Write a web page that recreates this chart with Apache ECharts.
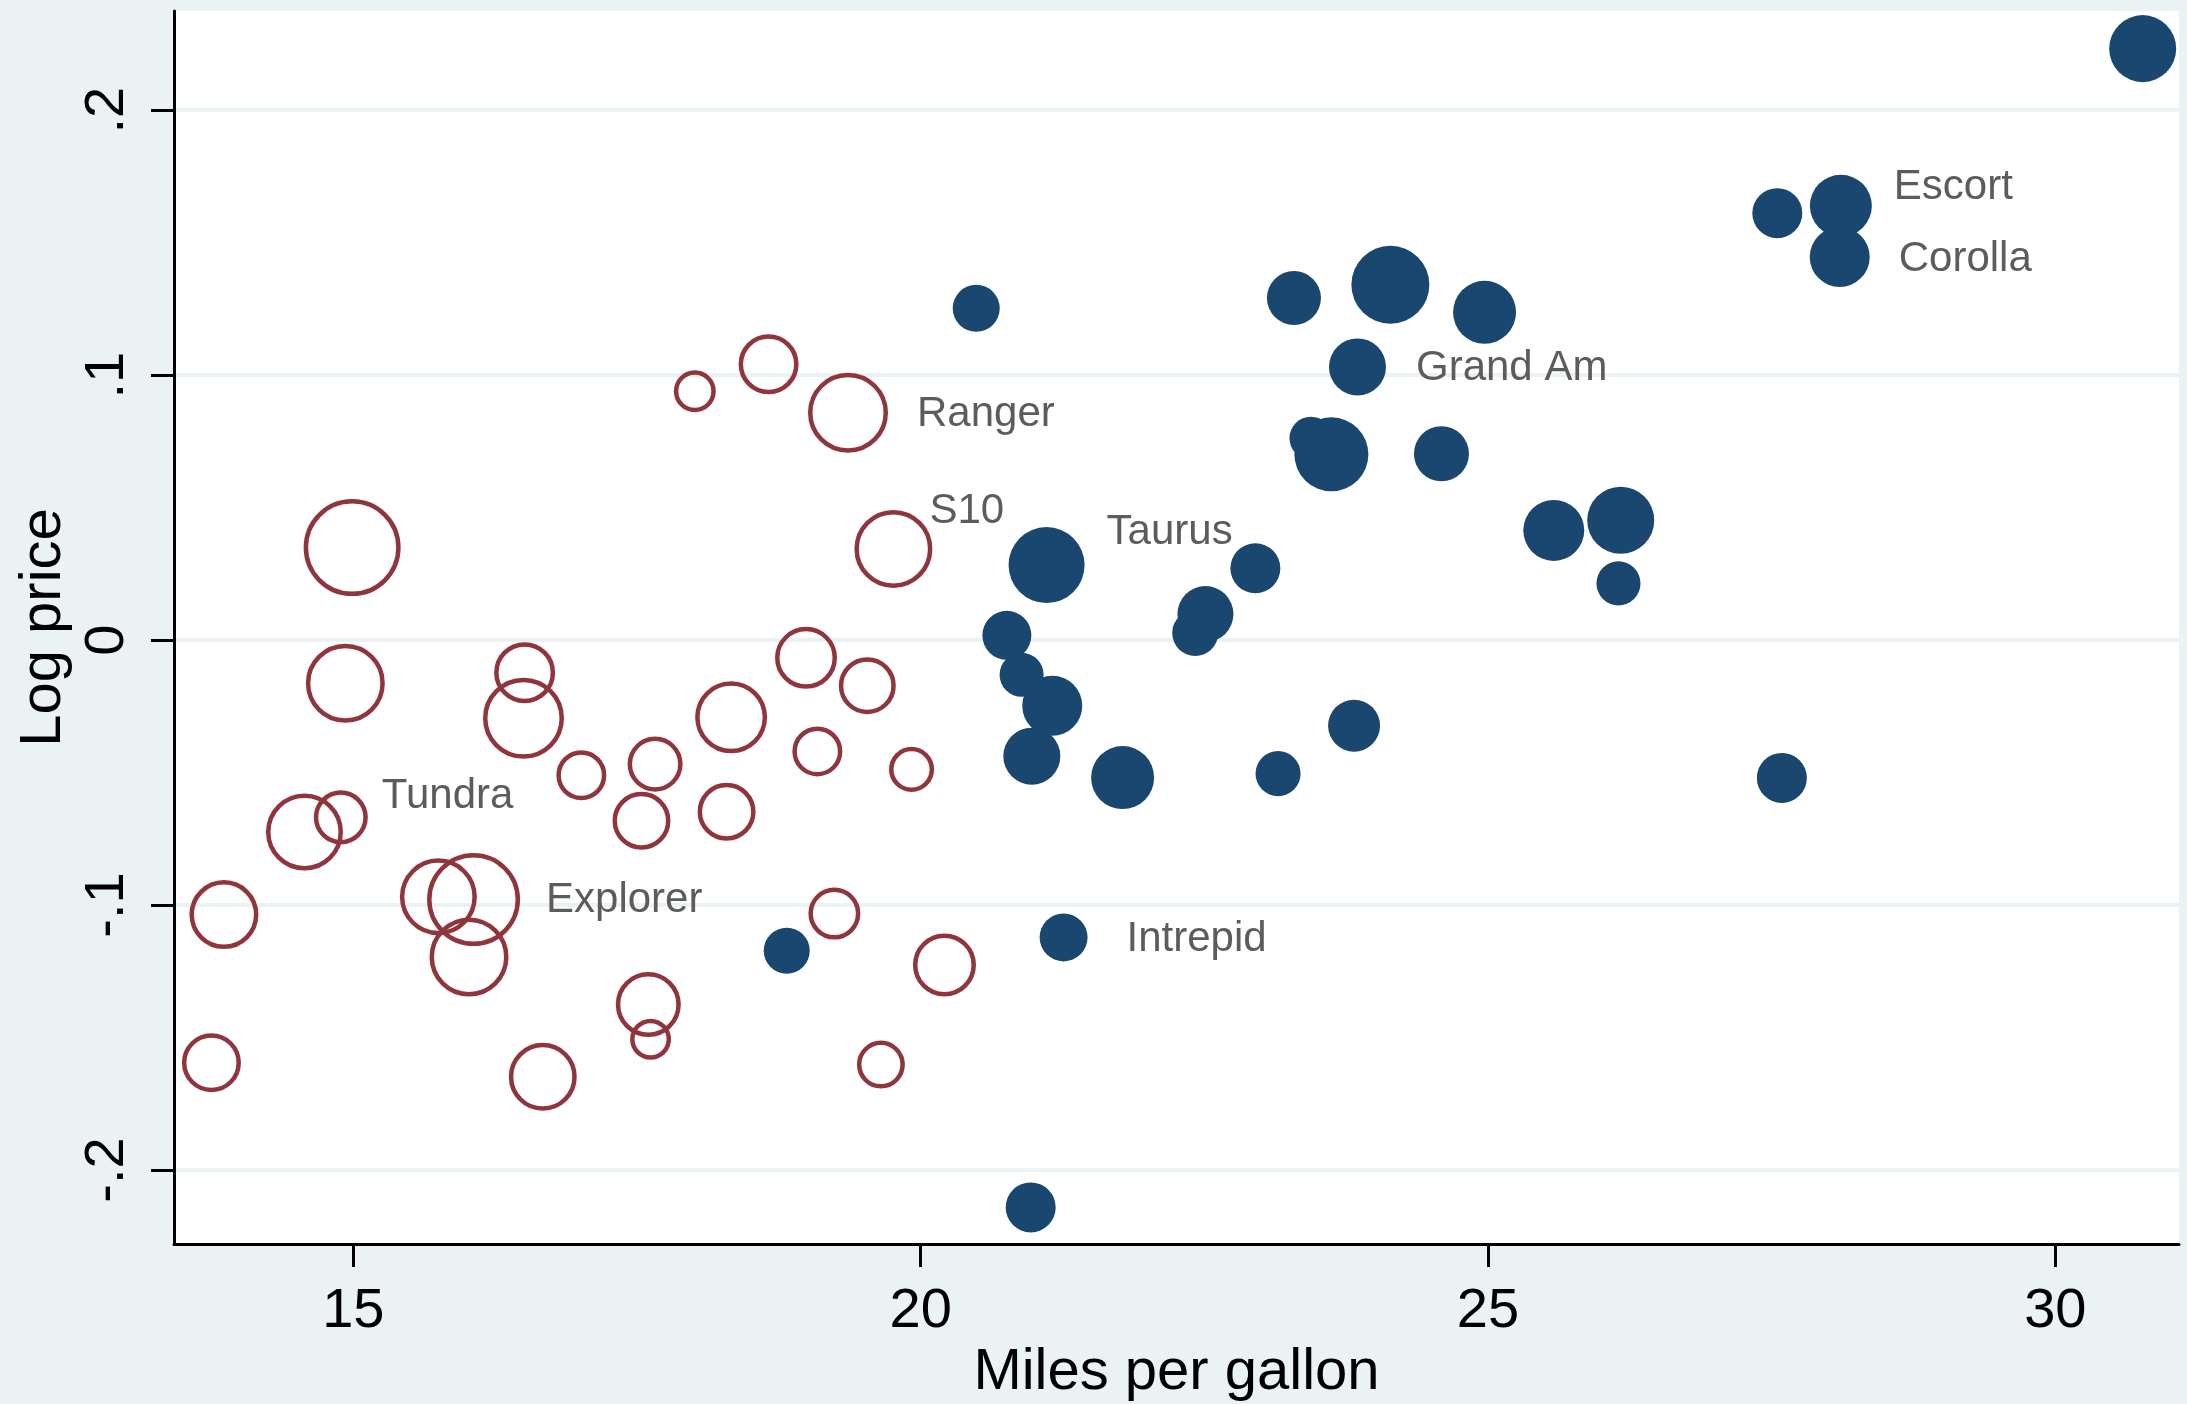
<!DOCTYPE html>
<html><head><meta charset="utf-8">
<script src="https://cdn.jsdelivr.net/npm/echarts@6/dist/echarts.min.js"></script>
<style>html,body{margin:0;padding:0;background:#EAF2F3}#c{width:2187px;height:1404px}</style>
</head><body><div id="c"></div>
<script>
// ---- data ----
const xTicks = [15, 20, 25, 30];
const yTicks = [-0.2, -0.1, 0, 0.1, 0.2];
const yTickLabels = ['-.2', '-.1', '0', '.1', '.2'];

const truckMpg = [18.01, 18.66, 19.36, 14.99, 19.76, 14.93, 16.51, 16.50, 17.01, 17.66, 17.54, 18.33, 18.29, 18.99, 19.09, 19.53, 19.92, 14.89, 14.57, 13.86, 15.75, 16.06, 16.02, 13.75, 16.67, 17.60, 17.62, 19.24, 20.21, 19.65];
const truckLogPrice = [0.0939, 0.1041, 0.0858, 0.0349, 0.0344, -0.0163, -0.0123, -0.0295, -0.0510, -0.0468, -0.0682, -0.0291, -0.0648, -0.0067, -0.0420, -0.0172, -0.0488, -0.0669, -0.0724, -0.1036, -0.0969, -0.0979, -0.1196, -0.1595, -0.1648, -0.1375, -0.1506, -0.1032, -0.1226, -0.1602];
const truckWeight = [17.6, 36.0, 64.0, 94.1, 60.8, 62.4, 37.2, 65.6, 25.0, 30.3, 33.6, 51.8, 33.6, 38.4, 25.0, 32.5, 20.3, 29.2, 59.3, 47.6, 59.3, 86.5, 62.4, 34.8, 46.2, 42.3, 16.8, 27.0, 39.7, 23.0];
const truckNames = ['', '', 'Ranger', '', 'S10', '', '', '', '', '', '', '', '', '', '', '', '', 'Tundra', '', '', '', 'Explorer', '', '', '', '', '', '', '', ''];

const carMpg = [20.49, 23.29, 24.14, 24.97, 23.85, 23.44, 23.62, 24.59, 21.11, 22.95, 22.42, 22.51, 20.76, 20.89, 21.16, 20.98, 21.78, 23.15, 23.82, 25.58, 26.17, 26.15, 27.55, 28.11, 28.10, 30.77, 27.59, 21.26, 18.82, 20.97];
const carLogPrice = [0.1252, 0.1291, 0.1341, 0.1237, 0.1031, 0.0762, 0.0701, 0.0703, 0.0283, 0.0271, 0.0027, 0.0098, 0.0018, -0.0131, -0.0248, -0.0438, -0.0519, -0.0504, -0.0323, 0.0414, 0.0452, 0.0214, 0.1611, 0.1639, 0.1446, 0.2232, -0.0520, -0.1122, -0.1172, -0.2141];
const carWeight = [22.1, 29.2, 60.8, 39.7, 32.5, 18.5, 54.8, 30.3, 57.8, 25.0, 21.2, 31.4, 24.0, 19.4, 36.0, 32.5, 39.7, 20.3, 27.0, 37.2, 44.9, 19.4, 25.0, 38.4, 36.0, 44.9, 25.0, 23.0, 21.2, 25.0];
const carNames = ['', '', '', '', 'Grand Am', '', '', '', 'Taurus', '', '', '', '', '', '', '', '', '', '', '', '', '', '', 'Escort', 'Corolla', '', '', 'Intrepid', '', ''];

// ---- styles ----
const FONT = '"Liberation Sans", Helvetica, Arial, sans-serif';
const labelOffsets = {
  'Ranger': [29, 2], 'S10': [-3, -38], 'Tundra': [14, -21], 'Explorer': [26, 1],
  'Grand Am': [30, 2], 'Taurus': [22, -33], 'Escort': [22, -18], 'Corolla': [29, 3], 'Intrepid': [39, 2]
};
const HOLLOW_W = 4.5;

function build(mpg, lp, w, names) {
  return mpg.map((m, i) => ({
    value: [m, lp[i], w[i]],
    name: names[i],
    label: names[i] ? { show: true, offset: labelOffsets[names[i]] || [0, 0] } : { show: false }
  }));
}

const pointLabel = {
  show: false, position: 'right', distance: 0, formatter: '{b}',
  fontSize: 42, color: '#5c5c5c', fontFamily: FONT
};

const chart = echarts.init(document.getElementById('c'), null, { renderer: 'canvas' });
chart.setOption({
  animation: false,
  backgroundColor: '#EAF2F3',
  grid: { left: 174, right: 8, top: 11, bottom: 160, show: true, backgroundColor: '#ffffff', borderWidth: 0, containLabel: false, outerBoundsMode: 'none' },
  xAxis: {
    type: 'value', min: 13.42, max: 31.09,
    name: 'Miles per gallon', nameLocation: 'middle', nameGap: 100, nameMoveOverlap: false,
    nameTextStyle: { fontSize: 58, color: '#000', fontFamily: FONT },
    axisLine: { show: true, onZero: false, lineStyle: { color: '#000', width: 3 } },
    axisTick: { show: true, length: 23, lineStyle: { color: '#000', width: 3 }, customValues: xTicks },
    axisLabel: { customValues: xTicks, margin: 40, fontSize: 56, color: '#000', fontFamily: FONT },
    splitLine: { show: false }
  },
  yAxis: {
    type: 'value', min: -0.2279, max: 0.2374,
    name: 'Log price', nameLocation: 'middle', nameGap: 101, nameRotate: 90, nameMoveOverlap: false,
    nameTextStyle: { fontSize: 58, color: '#000', fontFamily: FONT },
    axisLine: { show: true, onZero: false, lineStyle: { color: '#000', width: 3 } },
    axisTick: { show: true, length: 23, lineStyle: { color: '#000', width: 3 }, customValues: yTicks },
    axisLabel: {
      customValues: yTicks, rotate: 90, margin: 38, fontSize: 56, color: '#000', fontFamily: FONT,
      formatter: v => { const i = yTicks.findIndex(t => Math.abs(t - v) < 1e-9); return i >= 0 ? yTickLabels[i] : ''; }
    },
    splitLine: { show: true, lineStyle: { color: '#EAF2F3', width: 4 } }
  },
  series: [
    {
      name: 'Trucks', type: 'scatter', symbol: 'circle',
      symbolSize: v => 10 * Math.sqrt(v[2]) - HOLLOW_W,
      itemStyle: { color: 'rgba(0,0,0,0)', borderColor: '#90353B', borderWidth: HOLLOW_W, opacity: 1 },
      label: pointLabel,
      emphasis: { disabled: true },
      data: build(truckMpg, truckLogPrice, truckWeight, truckNames)
    },
    {
      name: 'Cars', type: 'scatter', symbol: 'circle',
      symbolSize: v => 10 * Math.sqrt(v[2]),
      itemStyle: { color: '#1A476F', opacity: 1 },
      label: pointLabel,
      emphasis: { disabled: true },
      data: build(carMpg, carLogPrice, carWeight, carNames)
    }
  ]
});
</script>
</body></html>
